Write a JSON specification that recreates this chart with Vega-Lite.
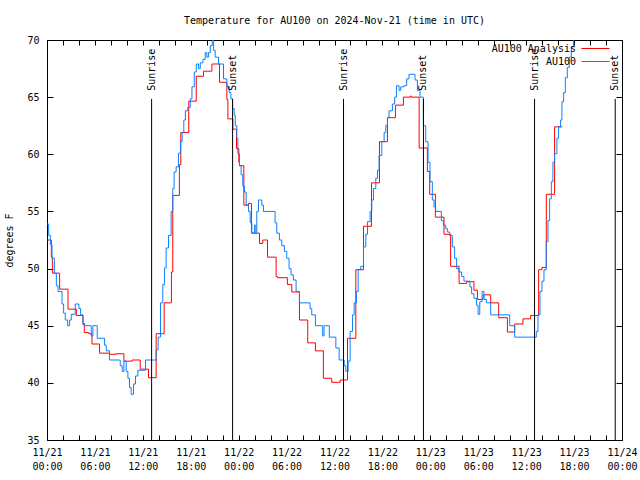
{
"$schema":"https://vega.github.io/schema/vega-lite/v6.json",
"width":575,"height":400,
"autosize":{"type":"none"},
"padding":{"left":47,"top":40,"right":18,"bottom":40},
"background":"white",
"title":{"text":"Temperature for AU100 on 2024-Nov-21 (time in UTC)","font":"DejaVu Sans Mono","fontSize":10,"fontWeight":"normal","offset":9,"color":"black"},
"config":{
 "view":{"stroke":"black","strokeWidth":1},
 "axis":{"grid":false,"domain":false,"labelFont":"DejaVu Sans Mono","labelFontSize":10,"labelColor":"black","titleFont":"DejaVu Sans Mono","titleFontSize":10,"titleFontWeight":"normal","titleColor":"black","tickColor":"black","tickWidth":1},
 "legend":{"orient":"none","legendX":543,"legendY":3,"symbolType":"M-3,0H3","symbolSize":88,"symbolStrokeWidth":1,"symbolFillColor":"transparent","symbolOpacity":1,"labelAlign":"right","labelOffset":-25,"labelFont":"DejaVu Sans Mono","labelFontSize":10,"labelColor":"black","padding":0,"rowPadding":2,"title":null}
},
"datasets":{
"ana":[{"t":0,"v":52.5},{"t":0.54,"v":51.0},{"t":0.67,"v":49.6},{"t":1.58,"v":48.2},{"t":2.63,"v":46.45},{"t":3.67,"v":45.9},{"t":4.5,"v":45.1},{"t":4.67,"v":44.4},{"t":5.25,"v":44.3},{"t":5.63,"v":43.4},{"t":6.58,"v":42.6},{"t":7.83,"v":42.5},{"t":8.67,"v":42.55},{"t":9.63,"v":41.9},{"t":10.67,"v":42.0},{"t":11.67,"v":41.2},{"t":12.71,"v":40.45},{"t":13.67,"v":44.3},{"t":14.67,"v":47.0},{"t":15.58,"v":49.7},{"t":15.75,"v":56.4},{"t":16.58,"v":59.1},{"t":16.75,"v":61.9},{"t":17.75,"v":64.65},{"t":18.69,"v":66.83},{"t":19.6,"v":67.27},{"t":20.65,"v":67.9},{"t":21.6,"v":66.3},{"t":22.52,"v":64.8},{"t":22.65,"v":63.1},{"t":23.27,"v":62.2},{"t":23.73,"v":60.5},{"t":24.02,"v":59.3},{"t":24.1,"v":59.0},{"t":24.65,"v":55.55},{"t":25.23,"v":55.7},{"t":25.6,"v":53.1},{"t":26.61,"v":52.2},{"t":27.02,"v":52.5},{"t":27.61,"v":51.0},{"t":28.69,"v":49.3},{"t":28.86,"v":49.2},{"t":30.1,"v":48.6},{"t":30.65,"v":47.95},{"t":31.61,"v":45.5},{"t":32.65,"v":43.5},{"t":33.61,"v":42.8},{"t":34.61,"v":40.4},{"t":35.65,"v":40.05},{"t":36.71,"v":40.25},{"t":37.63,"v":43.9},{"t":38.67,"v":49.9},{"t":39.63,"v":53.7},{"t":40.63,"v":57.5},{"t":41.63,"v":61.1},{"t":42.63,"v":63.2},{"t":43.63,"v":64.3},{"t":44.63,"v":65.0},{"t":45.5,"v":65.1},{"t":45.6,"v":65.0},{"t":46.6,"v":60.55},{"t":47.63,"v":58.5},{"t":47.92,"v":56.5},{"t":48.63,"v":54.5},{"t":49.71,"v":53.0},{"t":50.54,"v":50.2},{"t":51.6,"v":48.7},{"t":52.54,"v":48.85},{"t":53.46,"v":48.1},{"t":53.9,"v":47.3},{"t":54.6,"v":47.7},{"t":55.56,"v":47.0},{"t":56.56,"v":45.7},{"t":57.65,"v":44.45},{"t":58.56,"v":45.15},{"t":59.6,"v":45.6},{"t":60.56,"v":45.9},{"t":61.56,"v":49.9},{"t":61.98,"v":50.1},{"t":62.52,"v":56.5},{"t":63.56,"v":62.4},{"t":64.52,"v":62.4}],
"obs":[{"t":0,"v":53.9},{"t":0.21,"v":52.9},{"t":0.42,"v":52.1},{"t":0.63,"v":50.9},{"t":0.92,"v":49.6},{"t":1.17,"v":48.5},{"t":1.38,"v":48.0},{"t":1.88,"v":46.9},{"t":2.08,"v":46.1},{"t":2.29,"v":45.5},{"t":2.58,"v":45.0},{"t":2.83,"v":45.5},{"t":3.04,"v":46.0},{"t":3.54,"v":46.9},{"t":4.0,"v":46.5},{"t":4.21,"v":45.95},{"t":4.5,"v":45.2},{"t":4.71,"v":45.0},{"t":5.54,"v":44.1},{"t":5.75,"v":45.0},{"t":6.29,"v":43.9},{"t":7.21,"v":43.3},{"t":7.42,"v":42.8},{"t":7.83,"v":42.0},{"t":9.17,"v":41.5},{"t":9.42,"v":41.0},{"t":9.63,"v":41.9},{"t":9.92,"v":41.0},{"t":10.13,"v":40.4},{"t":10.33,"v":39.6},{"t":10.54,"v":39.0},{"t":10.83,"v":39.9},{"t":11.08,"v":40.6},{"t":11.38,"v":41.1},{"t":12.33,"v":42.0},{"t":13.67,"v":42.9},{"t":13.92,"v":44.0},{"t":14.21,"v":47.0},{"t":14.5,"v":48.6},{"t":14.71,"v":50.05},{"t":14.92,"v":51.8},{"t":15.21,"v":52.9},{"t":15.54,"v":55.0},{"t":15.75,"v":57.0},{"t":15.92,"v":58.45},{"t":16.17,"v":58.9},{"t":16.46,"v":60.1},{"t":16.71,"v":61.1},{"t":16.92,"v":61.9},{"t":17.13,"v":63.0},{"t":17.33,"v":63.8},{"t":17.63,"v":64.1},{"t":17.94,"v":64.85},{"t":18.15,"v":65.9},{"t":18.44,"v":67.2},{"t":18.69,"v":67.9},{"t":18.98,"v":67.5},{"t":19.19,"v":68.0},{"t":19.52,"v":68.3},{"t":19.81,"v":68.9},{"t":20.02,"v":68.5},{"t":20.23,"v":68.9},{"t":20.44,"v":69.5},{"t":20.69,"v":70.3},{"t":20.86,"v":69.1},{"t":21.06,"v":68.5},{"t":21.48,"v":67.9},{"t":22.1,"v":66.6},{"t":22.52,"v":65.9},{"t":22.81,"v":65.4},{"t":23.02,"v":64.85},{"t":23.23,"v":64.0},{"t":23.44,"v":63.4},{"t":23.57,"v":62.5},{"t":23.77,"v":61.4},{"t":23.9,"v":60.05},{"t":24.1,"v":59.0},{"t":24.31,"v":58.2},{"t":24.52,"v":57.2},{"t":24.73,"v":56.7},{"t":24.94,"v":55.55},{"t":25.23,"v":55.0},{"t":25.44,"v":54.0},{"t":25.65,"v":53.1},{"t":25.98,"v":53.8},{"t":26.15,"v":53.1},{"t":26.27,"v":55.0},{"t":26.48,"v":56.0},{"t":26.9,"v":55.55},{"t":27.1,"v":55.0},{"t":28.56,"v":54.0},{"t":28.77,"v":53.1},{"t":29.1,"v":52.5},{"t":29.4,"v":52.0},{"t":29.73,"v":51.5},{"t":30.02,"v":50.9},{"t":30.31,"v":50.0},{"t":30.56,"v":49.45},{"t":30.85,"v":49.0},{"t":31.19,"v":48.0},{"t":31.61,"v":47.0},{"t":32.94,"v":46.5},{"t":33.15,"v":45.95},{"t":33.61,"v":45.0},{"t":34.52,"v":44.1},{"t":34.69,"v":45.0},{"t":35.35,"v":44.0},{"t":36.17,"v":43.05},{"t":36.58,"v":42.0},{"t":37.21,"v":41.5},{"t":37.42,"v":41.0},{"t":37.71,"v":41.9},{"t":37.96,"v":44.5},{"t":38.25,"v":45.95},{"t":38.46,"v":47.0},{"t":38.75,"v":48.0},{"t":38.96,"v":49.9},{"t":39.29,"v":50.2},{"t":39.63,"v":51.9},{"t":39.92,"v":53.0},{"t":40.13,"v":54.1},{"t":40.46,"v":55.0},{"t":40.67,"v":56.0},{"t":40.88,"v":57.0},{"t":41.17,"v":57.9},{"t":41.38,"v":58.6},{"t":41.58,"v":59.9},{"t":41.92,"v":61.1},{"t":42.21,"v":61.9},{"t":42.42,"v":62.5},{"t":42.63,"v":63.2},{"t":42.83,"v":63.8},{"t":43.25,"v":64.4},{"t":43.54,"v":65.0},{"t":43.75,"v":66.0},{"t":44.08,"v":65.6},{"t":44.29,"v":65.9},{"t":44.71,"v":66.0},{"t":45.04,"v":66.6},{"t":45.33,"v":67.0},{"t":46.08,"v":66.5},{"t":46.38,"v":65.6},{"t":46.71,"v":65.0},{"t":47.13,"v":62.5},{"t":47.42,"v":61.1},{"t":47.71,"v":59.3},{"t":47.96,"v":57.6},{"t":48.25,"v":56.0},{"t":48.46,"v":55.4},{"t":48.67,"v":55.0},{"t":49.38,"v":54.2},{"t":49.63,"v":53.8},{"t":49.92,"v":53.5},{"t":50.13,"v":53.2},{"t":50.42,"v":52.9},{"t":50.75,"v":51.9},{"t":51.04,"v":50.9},{"t":51.29,"v":50.0},{"t":51.58,"v":49.7},{"t":51.92,"v":49.3},{"t":52.21,"v":48.9},{"t":52.96,"v":48.4},{"t":53.17,"v":47.8},{"t":53.46,"v":47.4},{"t":53.79,"v":46.8},{"t":53.98,"v":46.0},{"t":54.19,"v":47.1},{"t":54.48,"v":48.0},{"t":54.73,"v":47.3},{"t":55.02,"v":47.0},{"t":55.56,"v":45.95},{"t":57.94,"v":45.0},{"t":58.56,"v":44.0},{"t":61.27,"v":44.5},{"t":61.48,"v":45.95},{"t":61.73,"v":48.0},{"t":61.98,"v":48.9},{"t":62.23,"v":49.9},{"t":62.52,"v":52.35},{"t":62.73,"v":54.2},{"t":62.94,"v":56.1},{"t":63.15,"v":57.6},{"t":63.35,"v":59.3},{"t":63.56,"v":60.05},{"t":63.85,"v":61.4},{"t":64.06,"v":62.4},{"t":64.31,"v":63.0},{"t":64.48,"v":64.6},{"t":64.69,"v":65.4},{"t":64.9,"v":66.7},{"t":65.15,"v":67.6},{"t":65.4,"v":68.5},{"t":65.65,"v":69.4},{"t":65.94,"v":70.2},{"t":66.19,"v":71.0},{"t":66.48,"v":71.8},{"t":66.7,"v":72.0}],
"sun":[{"event":"Sunrise","t":13.1},{"event":"Sunset","t":23.24},{"event":"Sunrise","t":37.13},{"event":"Sunset","t":47.14},{"event":"Sunrise","t":61.05},{"event":"Sunset","t":71.15}]
},
"resolve":{"axis":{"x":"independent","y":"independent"}},
"layer":[
{"data":{"name":"ana"},"mark":{"type":"line","interpolate":"step-after","strokeWidth":1,"clip":true},
 "encoding":{
  "x":{"field":"t","type":"quantitative","scale":{"domain":[0,72],"nice":false,"zero":false},
       "axis":{"orient":"bottom","values":[0,2,4,6,8,10,12,14,16,18,20,22,24,26,28,30,32,34,36,38,40,42,44,46,48,50,52,54,56,58,60,62,64,66,68,70,72],"tickSize":-5,"labelPadding":12,"labelLineHeight":14,"labelOverlap":false,"labelFlush":false,"labelBound":false,"title":null,
       "labelExpr":"datum.value % 6 == 0 ? ['11/' + (21 + floor(datum.value / 24)), ((datum.value % 24) < 10 ? '0' : '') + (datum.value % 24) + ':00'] : ''"}},
  "y":{"field":"v","type":"quantitative","scale":{"domain":[35,70],"nice":false,"zero":false},
       "axis":{"orient":"left","values":[35,40,45,50,55,60,65,70],"tickSize":-6,"labelPadding":14,"title":"degrees F","titlePadding":12}},
  "color":{"datum":"AU100 Analysis","type":"nominal","scale":{"domain":["AU100 Analysis","AU100"],"range":["#ff0000","#0a80ff"]},
   "legend":{"encode":{"symbols":{"update":{"stroke":{"scale":"color","field":"value"},"strokeWidth":{"value":1},"opacity":{"value":1}}}}}}
 }},
{"data":{"name":"obs"},"mark":{"type":"line","interpolate":"step-after","strokeWidth":1,"clip":true},
 "encoding":{
  "x":{"field":"t","type":"quantitative","axis":{"orient":"top","values":[0,2,4,6,8,10,12,14,16,18,20,22,24,26,28,30,32,34,36,38,40,42,44,46,48,50,52,54,56,58,60,62,64,66,68,70,72],"tickSize":-5,"labels":false,"title":null}},
  "y":{"field":"v","type":"quantitative","axis":{"orient":"right","values":[35,40,45,50,55,60,65,70],"tickSize":-6,"labels":false,"title":null}},
  "color":{"datum":"AU100","type":"nominal"}
 }},
{"data":{"name":"sun"},"mark":{"type":"rule","color":"black","strokeWidth":1},
 "encoding":{"x":{"field":"t","type":"quantitative","axis":null},"y":{"datum":64.85,"type":"quantitative","axis":null},"y2":{"datum":35}}},
{"data":{"name":"sun"},"mark":{"type":"text","angle":270,"align":"left","baseline":"middle","font":"DejaVu Sans Mono","fontSize":10,"color":"black"},
 "encoding":{"x":{"field":"t","type":"quantitative","axis":null},"y":{"datum":65.55,"type":"quantitative","axis":null},"text":{"field":"event"}}}
]
}
